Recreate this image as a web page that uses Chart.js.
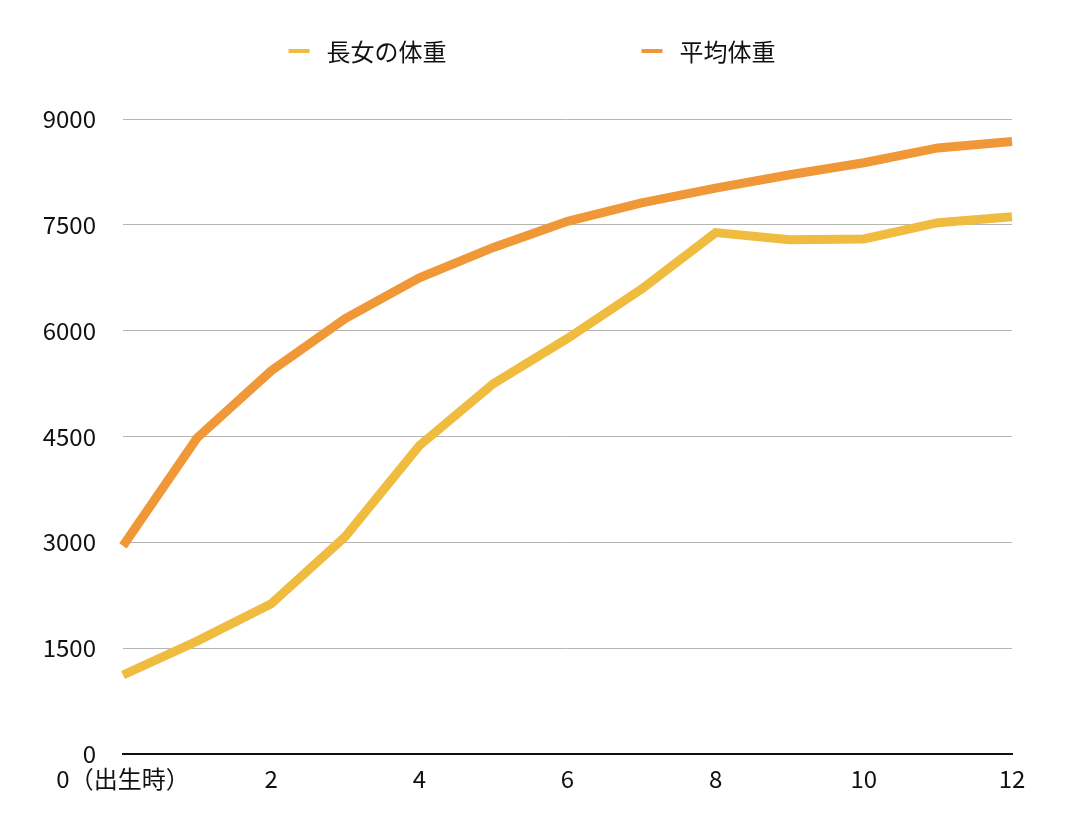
<!DOCTYPE html>
<html>
<head>
<meta charset="utf-8">
<script src="https://cdn.jsdelivr.net/npm/chart.js@4.4.1/dist/chart.umd.min.js"></script>
<style>
  html, body { margin: 0; padding: 0; background: #fff; }
  #wrap { width: 1070px; height: 828px; position: relative; }
</style>
</head>
<body>
<div id="wrap"><canvas id="weightChart"></canvas></div>
<script>
const months = ['0（出生時）', '1', '2', '3', '4', '5', '6', '7', '8', '9', '10', '11', '12'];
const daughterWeight = [1120, 1600, 2130, 3080, 4370, 5250, 5890, 6590, 7390, 7290, 7300, 7530, 7615];
const averageWeight = [2950, 4480, 5430, 6170, 6750, 7180, 7550, 7810, 8020, 8210, 8380, 8590, 8680];
const seriesNames = ['長女の体重', '平均体重'];
const seriesColors = ['#EFBC40', '#F09837'];

const FONT = '"Noto Sans CJK JP", "Noto Sans", sans-serif';

// legend drawn by hand: items sit far apart, which the built-in legend can't do
const topLegend = {
  id: 'topLegend',
  afterDraw(chart) {
    const ctx = chart.ctx;
    ctx.save();
    ctx.font = '24px ' + FONT;
    ctx.textBaseline = 'middle';
    ctx.textAlign = 'left';
    const boxW = 21, gapText = 17, gapItems = 195, y = 51;
    const items = chart.data.datasets.map(ds => ({
      text: ds.label, color: ds.borderColor,
      w: boxW + gapText + ctx.measureText(ds.label).width
    }));
    const total = items.reduce((s, it) => s + it.w, 0) + gapItems * (items.length - 1);
    let x = 532 - total / 2;
    items.forEach(it => {
      ctx.fillStyle = it.color;
      ctx.fillRect(x, y - 2, boxW, 4);
      ctx.fillStyle = '#111';
      ctx.fillText(it.text, x + boxW + gapText, y + 1);
      x += it.w + gapItems;
    });
    ctx.restore();
  }
};

new Chart(document.getElementById('weightChart'), {
  type: 'line',
  data: {
    labels: months,
    datasets: [
      { label: seriesNames[0], data: daughterWeight, borderColor: seriesColors[0], backgroundColor: seriesColors[0],
        borderWidth: 9, pointRadius: 0, tension: 0, fill: false },
      { label: seriesNames[1], data: averageWeight, borderColor: seriesColors[1], backgroundColor: seriesColors[1],
        borderWidth: 9, pointRadius: 0, tension: 0, fill: false }
    ]
  },
  options: {
    responsive: true,
    maintainAspectRatio: false,
    animation: false,
    layout: { padding: { top: 119, right: 58, left: 0, bottom: 0 } },
    plugins: {
      legend: { display: false },
      tooltip: { enabled: false }
    },
    scales: {
      x: {
        offset: false,
        grid: { display: false, drawTicks: false },
        border: { display: true, color: '#111', width: 2 },
        ticks: {
          autoSkip: false,
          maxRotation: 0,
          padding: 10,
          color: '#111',
          font: { family: FONT, size: 24 },
          callback: function (val, i) { return i % 2 === 0 ? this.getLabelForValue(val) : ''; }
        },
        afterFit: scale => { scale.height = 74; }
      },
      y: {
        min: 0,
        max: 9000,
        grid: {
          drawTicks: false,
          lineWidth: 1,
          color: c => (c.tick && c.tick.value === 0 ? 'rgba(0,0,0,0)' : '#b5b5b5')
        },
        border: { display: false },
        ticks: {
          stepSize: 1500,
          padding: 27,
          color: '#111',
          font: { family: FONT, size: 24 },
          callback: v => String(v)
        },
        afterFit: scale => { scale.width = 123; }
      }
    }
  },
  plugins: [topLegend]
});
</script>
</body>
</html>
